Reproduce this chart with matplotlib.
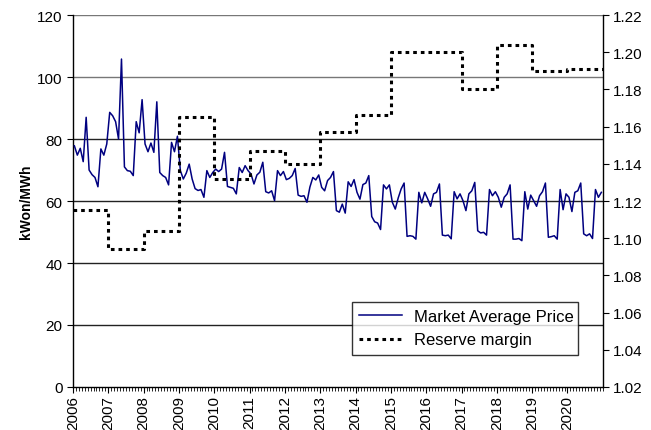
import numpy as np
import matplotlib
matplotlib.use("Agg")
import matplotlib.pyplot as plt
from matplotlib.ticker import MultipleLocator, FixedLocator

plt.rcParams['font.family'] = ['Liberation Sans', 'DejaVu Sans']

# monthly market average price, Jan 2006 .. Dec 2020 (kWon/MWh)
price = [
    77.8, 74.8, 77.0, 72.7, 87.0, 70.0, 68.5, 67.6, 64.6, 76.8, 74.8, 78.4,  # 2006
    88.6, 87.5, 85.6, 80.0, 105.8, 71.0, 69.8, 69.6, 68.2, 85.6, 82.0, 92.7,  # 2007
    78.4, 75.9, 78.7, 75.7, 92.0, 69.2, 68.2, 67.6, 65.2, 78.9, 75.9, 80.9,  # 2008
    69.8, 67.1, 69.0, 71.9, 67.1, 64.0, 63.4, 63.7, 61.2, 69.8, 67.6, 69.2,  # 2009
    70.3, 69.5, 70.3, 75.7, 64.7, 64.4, 64.1, 62.3, 70.8, 69.2, 71.4, 69.8,  # 2010
    68.7, 65.5, 68.4, 69.3, 72.5, 63.0, 62.6, 63.3, 60.1, 69.8, 68.2, 69.5,  # 2011
    66.9, 67.3, 68.2, 70.5, 61.9, 61.5, 61.7, 59.6, 64.5, 67.6, 66.8, 68.4,  # 2012
    64.4, 63.3, 66.6, 67.6, 69.5, 56.9, 56.4, 59.0, 56.1, 66.2, 64.7, 66.9,  # 2013
    62.8, 60.6, 65.3, 65.8, 68.2, 55.0, 53.3, 52.9, 50.8, 65.2, 63.9, 65.2,  # 2014
    59.6, 57.4, 61.0, 63.9, 65.8, 48.6, 48.8, 48.6, 47.7, 62.8, 59.4, 62.8,  # 2015
    60.7, 58.3, 62.3, 62.8, 65.5, 49.0, 48.8, 49.0, 47.8, 63.0, 60.7, 62.3,  # 2016
    60.1, 56.9, 62.3, 63.3, 66.0, 50.4, 49.7, 49.9, 49.0, 63.7, 61.7, 63.0,  # 2017
    61.2, 58.0, 61.2, 62.3, 65.2, 47.7, 47.7, 47.9, 47.2, 63.0, 57.4, 61.9,  # 2018
    60.1, 58.3, 61.7, 63.0, 65.8, 48.3, 48.5, 48.8, 47.7, 63.7, 57.2, 62.3,  # 2019
    61.2, 56.6, 62.8, 63.3, 65.8, 49.4, 48.8, 49.4, 47.9, 63.7, 61.2, 62.8,  # 2020
]

# yearly reserve margin
years = list(range(2006, 2021))
reserve = [1.115, 1.094, 1.104, 1.165, 1.132, 1.147, 1.140, 1.157, 1.166,
           1.200, 1.200, 1.180, 1.204, 1.190, 1.191]

months = 2006 + (np.arange(len(price)) + 0.5) / 12.0

fig = plt.figure(figsize=(6.51, 4.31), dpi=100)
ax = fig.add_axes([0.112, 0.0998, 0.814, 0.863])
ax2 = ax.twinx()

# gridlines
for v in range(20, 121, 20):
    ax.axhline(v, color='#222222' if v <= 80 else '#777777', lw=1.0, zorder=1)

ln1, = ax.plot(months, price, color='#000080', lw=1.1, zorder=3,
               label='Market Average Price')

ry = years + [2021]
rv = reserve + [reserve[-1]]
ln2, = ax2.plot(ry, rv, color='black', lw=2.2, drawstyle='steps-post',
                linestyle=(0, (1.2, 1.3)), dash_capstyle='butt',
                label='Reserve margin')

ax.set_xlim(2006, 2021)
ax.set_ylim(0, 120)
ax2.set_ylim(1.02, 1.22)
ax.yaxis.set_major_locator(MultipleLocator(20))
ax2.yaxis.set_major_locator(MultipleLocator(0.02))
ax2.set_yticklabels([f'{t:.2f}' for t in ax2.get_yticks()])
ax2.set_ylim(1.02, 1.22)

ax.xaxis.set_major_locator(FixedLocator(years))
ax.xaxis.set_minor_locator(FixedLocator(2006 + np.arange(0, 181) / 12.0))
ax.set_xticklabels([str(y) for y in years], rotation=90)

for a in (ax, ax2):
    a.spines['top'].set_visible(False)
    for s in a.spines.values():
        s.set_linewidth(1.0)
ax.spines['right'].set_visible(False)
ax2.spines['left'].set_visible(False)
ax2.spines['bottom'].set_visible(False)

ax.tick_params(axis='y', direction='out', length=4, labelsize=11)
ax2.tick_params(axis='y', direction='out', length=4, labelsize=11)
ax.tick_params(axis='x', which='major', direction='out', length=4, labelsize=11, pad=2)
ax.tick_params(axis='x', which='minor', direction='out', length=3, width=0.6)

ax.set_ylabel('kWon/MWh', fontsize=10, fontweight='bold', labelpad=3)

leg = ax2.legend(handles=[ln1, ln2], loc='lower left',
                 bbox_to_anchor=(0.526, 0.086, 0.427, 0.161), mode='expand',
                 fontsize=12, frameon=True, fancybox=False, borderpad=0.45,
                 handlelength=2.6, handletextpad=0.7, labelspacing=0.5,
                 borderaxespad=0)
leg.get_frame().set_edgecolor('black')
leg.get_frame().set_linewidth(1.0)

fig.savefig('out.png', dpi=100)
